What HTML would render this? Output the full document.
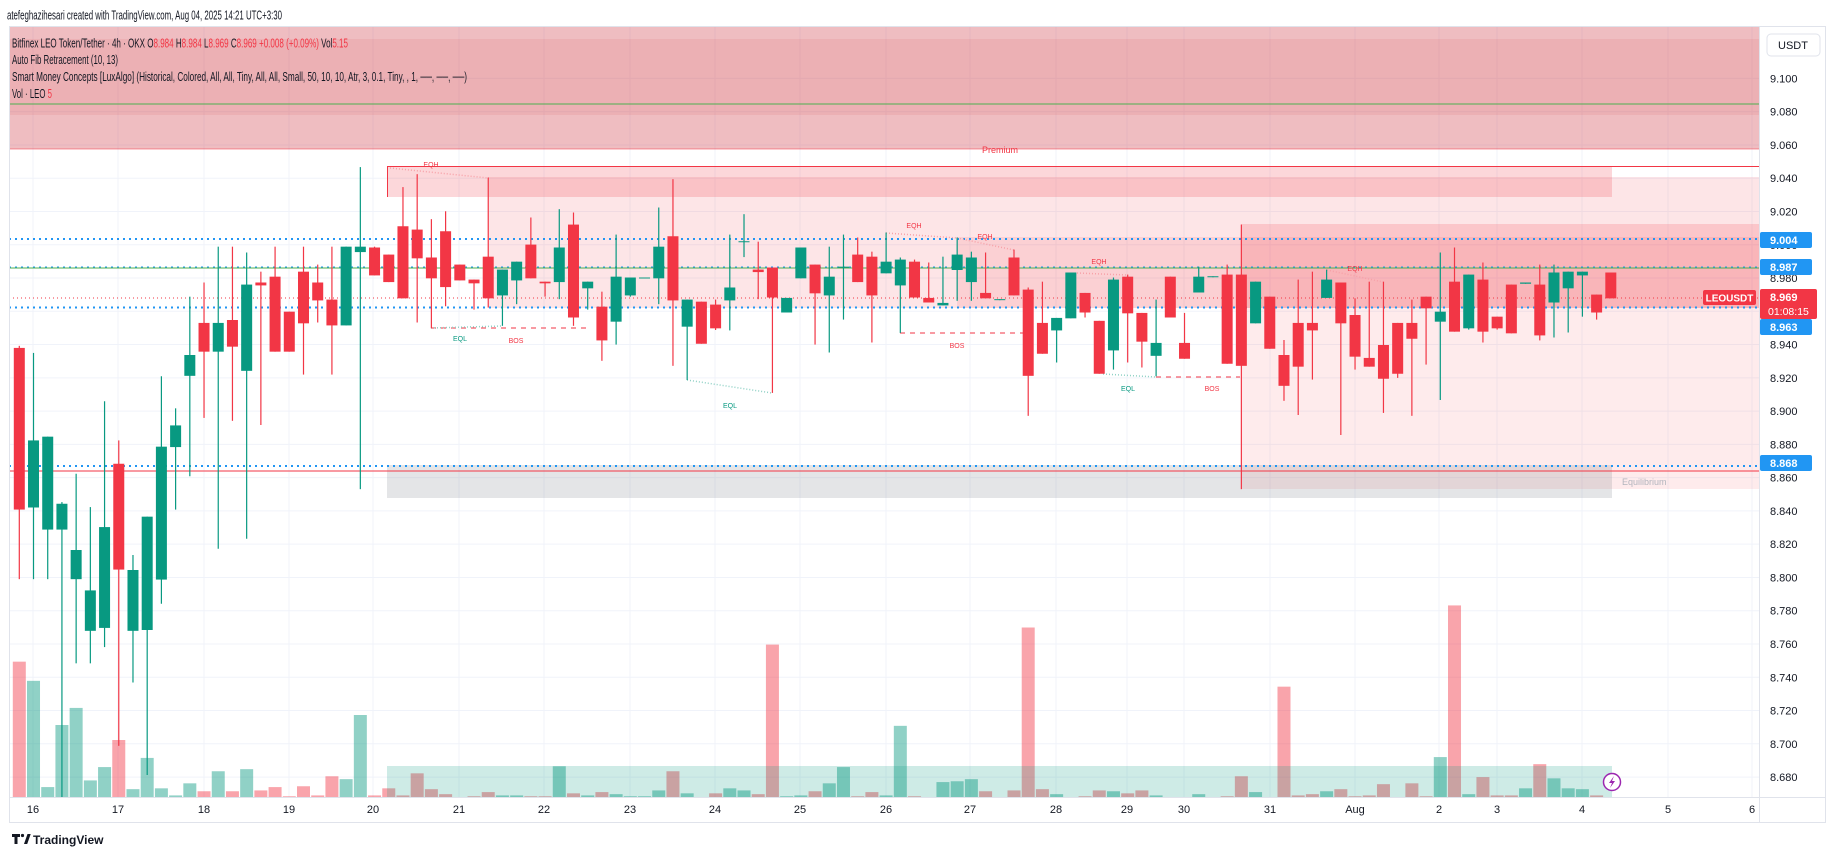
<!DOCTYPE html>
<html><head><meta charset="utf-8"><style>
html,body{margin:0;padding:0;background:#fff;width:1835px;height:858px;overflow:hidden}
svg{display:block;font-family:"Liberation Sans",sans-serif}
</style></head><body>
<svg id="s" width="1835" height="858" viewBox="0 0 1835 858" xmlns="http://www.w3.org/2000/svg">
<rect x="0" y="0" width="1835" height="858" fill="#fff"/>
<g id="grid"></g>
<rect x="9" y="26" width="1750" height="123" fill="rgba(214,82,92,0.38)"/>
<rect x="9" y="39" width="1750" height="76" fill="rgba(214,82,92,0.12)"/>
<line x1="9" y1="104" x2="1759" y2="104" stroke="#4caf50" stroke-width="1"/>
<line x1="9" y1="149" x2="1759" y2="149" stroke="rgba(242,54,69,0.5)" stroke-width="1"/>
<text x="1000" y="153" font-size="9" fill="#f23645" text-anchor="middle">Premium</text>
<rect x="488" y="177" width="1271" height="131" fill="rgba(242,54,69,0.13)"/>
<rect x="957" y="237" width="802" height="71" fill="rgba(242,54,69,0.12)"/>
<rect x="1241" y="224" width="518" height="265" fill="rgba(242,54,69,0.1)"/>
<rect x="1241" y="224" width="518" height="84" fill="rgba(242,54,69,0.08)"/>
<rect x="387" y="166" width="1225" height="31" fill="rgba(242,54,69,0.2)"/>
<line x1="387" y1="166.5" x2="1759" y2="166.5" stroke="#f23645" stroke-width="1"/>
<line x1="387.5" y1="166" x2="387.5" y2="197" stroke="#f23645" stroke-width="1"/>
<rect x="387" y="465" width="1225" height="33" fill="rgba(120,123,134,0.2)"/>
<text x="1622" y="485" font-size="9" fill="#b2b5be">Equilibrium</text>
<line x1="9" y1="268" x2="1759" y2="268" stroke="#4caf50" stroke-width="1"/>
<line x1="9" y1="239" x2="1759" y2="239" stroke="#2196f3" stroke-width="2" stroke-dasharray="2,4"/>
<line x1="9" y1="267" x2="1759" y2="267" stroke="#2196f3" stroke-width="1" stroke-dasharray="2,4"/>
<line x1="9" y1="307.5" x2="1759" y2="307.5" stroke="#2196f3" stroke-width="2" stroke-dasharray="2,4"/>
<line x1="9" y1="466" x2="1759" y2="466" stroke="#2196f3" stroke-width="2" stroke-dasharray="2,4"/>
<line x1="9" y1="471" x2="1759" y2="471" stroke="#f23645" stroke-width="1"/>
<line x1="9" y1="298" x2="1759" y2="298" stroke="#f23645" stroke-width="1" stroke-dasharray="1,3"/>
<g font-size="7" text-anchor="middle">
<line x1="390" y1="168" x2="488" y2="178" stroke="#f7a1a8" stroke-width="1.5" stroke-dasharray="1,2"/>
<text x="431" y="167" fill="#f23645">EQH</text>
<line x1="431" y1="328" x2="590" y2="328" stroke="#f23645" stroke-width="1" stroke-dasharray="5,5"/>
<line x1="431" y1="328" x2="502" y2="326" stroke="#8fd1c5" stroke-width="1.5" stroke-dasharray="1,2"/>
<text x="460" y="341" fill="#089981">EQL</text>
<text x="516" y="343" fill="#f23645">BOS</text>
<line x1="687" y1="380" x2="772" y2="393" stroke="#8fd1c5" stroke-width="1.5" stroke-dasharray="1,2"/>
<text x="730" y="408" fill="#089981">EQL</text>
<line x1="886" y1="233" x2="957" y2="238" stroke="#f7a1a8" stroke-width="1.5" stroke-dasharray="1,2"/>
<text x="914" y="228" fill="#f23645">EQH</text>
<line x1="957" y1="238" x2="1014" y2="250" stroke="#f7a1a8" stroke-width="1.5" stroke-dasharray="1,2"/>
<text x="985" y="239" fill="#f23645">EQH</text>
<line x1="900" y1="333" x2="1023" y2="333" stroke="#f23645" stroke-width="1" stroke-dasharray="5,5"/>
<text x="957" y="348" fill="#f23645">BOS</text>
<line x1="1077" y1="273" x2="1127" y2="275" stroke="#f7a1a8" stroke-width="1.5" stroke-dasharray="1,2"/>
<text x="1099" y="264" fill="#f23645">EQH</text>
<line x1="1103" y1="374" x2="1156" y2="377" stroke="#8fd1c5" stroke-width="1.5" stroke-dasharray="1,2"/>
<text x="1128" y="391" fill="#089981">EQL</text>
<line x1="1156" y1="377" x2="1240" y2="377" stroke="#f23645" stroke-width="1" stroke-dasharray="5,5"/>
<text x="1212" y="391" fill="#f23645">BOS</text>
<line x1="1327" y1="270" x2="1383" y2="282" stroke="#f7a1a8" stroke-width="1.5" stroke-dasharray="1,2"/>
<text x="1355" y="271" fill="#f23645">EQH</text>
</g>
<g id="vol"></g>
<rect x="387" y="766" width="1225" height="31" fill="rgba(8,153,129,0.2)"/>
<g id="cand"></g>
<circle cx="1612" cy="782" r="8.5" fill="#fff" stroke="#9c27b0" stroke-width="1.5"/>
<path d="M1614,776 L1609,783 L1612,783 L1610,788 L1615,781 L1612,781 Z" fill="#9c27b0"/>
<rect x="9.5" y="26.5" width="1816" height="796" fill="none" stroke="#e0e3eb"/>
<line x1="1759.5" y1="26" x2="1759.5" y2="823" stroke="#e0e3eb"/>
<line x1="9" y1="797.5" x2="1826" y2="797.5" stroke="#e0e3eb"/>
<g id="axis" font-size="11" fill="#131722"></g>
<rect x="1767" y="34" width="53" height="22" rx="4" fill="#fff" stroke="#e0e3eb"/>
<text x="1793" y="49" font-size="11" fill="#131722" text-anchor="middle">USDT</text>
<g font-size="11" font-weight="bold" fill="#fff">
<rect x="1760" y="232" width="52" height="16" rx="2" fill="#2196f3"/><text x="1770" y="244">9.004</text>
<rect x="1760" y="259" width="52" height="16" rx="2" fill="#2196f3"/><text x="1770" y="271">8.987</text>
<rect x="1760" y="319" width="52" height="16" rx="2" fill="#2196f3"/><text x="1770" y="331">8.963</text>
<rect x="1760" y="455" width="52" height="16" rx="2" fill="#2196f3"/><text x="1770" y="467">8.868</text>
<rect x="1760" y="289" width="57" height="30" rx="2" fill="#f23645"/><text x="1770" y="301">8.969</text>
<text x="1768" y="315" font-weight="normal" font-size="10.5">01:08:15</text>
<rect x="1703" y="290" width="53" height="15" rx="2" fill="#f23645"/><text x="1729.5" y="301.5" text-anchor="middle" font-size="10">LEOUSDT</text>
</g>
<text x="7" y="19.5" font-size="12.5" fill="#131722" textLength="275" lengthAdjust="spacingAndGlyphs">atefeghazihesari created with TradingView.com, Aug 04, 2025 14:21 UTC+3:30</text>
<g font-size="12.5" fill="#131722">
<text x="12" y="47.5" textLength="336" lengthAdjust="spacingAndGlyphs">Bitfinex LEO Token/Tether · 4h · OKX  O<tspan fill="#f23645">8.984</tspan>  H<tspan fill="#f23645">8.984</tspan>  L<tspan fill="#f23645">8.969</tspan>  C<tspan fill="#f23645">8.969</tspan>  <tspan fill="#f23645">+0.008 (+0.09%)</tspan>  Vol<tspan fill="#f23645">5.15</tspan></text>
<text x="12" y="64" textLength="106" lengthAdjust="spacingAndGlyphs">Auto Fib Retracement (10, 13)</text>
<text x="12" y="81" textLength="455" lengthAdjust="spacingAndGlyphs">Smart Money Concepts [LuxAlgo] (Historical, Colored, All, All, Tiny, All, All, Small, 50, 10, 10, Atr, 3, 0.1, Tiny, , 1, ──, ──, ──)</text>
<text x="12" y="98" textLength="40" lengthAdjust="spacingAndGlyphs">Vol · LEO  <tspan fill="#f23645">5</tspan></text>
</g>
<g>
<path d="M12,834 h8 v3 h-2.5 v7 h-3 v-7 h-2.5z" fill="#131722"/>
<circle cx="22.5" cy="835.5" r="1.6" fill="#131722"/>
<path d="M24,844 l3.5,-10 h3.2 l-3.5,10z" fill="#131722"/>
<text x="33" y="844" font-size="12" font-weight="bold" fill="#131722">TradingView</text>
</g>
</svg>
<script>
var NS="http://www.w3.org/2000/svg";
function el(p,t,a){var e=document.createElementNS(NS,t);for(var k in a)e.setAttribute(k,a[k]);p.appendChild(e);return e;}
var grid=document.getElementById('grid'),axis=document.getElementById('axis');
for(var i=0;i<=21;i++){var p=9.1-i*0.02;var y=78.4+(9.1-p)*1663.5;
 el(grid,'line',{x1:9,y1:y,x2:1759,y2:y,stroke:'#f0f3fa','stroke-width':1});
 var t=el(axis,'text',{x:1770,y:y+4});t.textContent=p.toFixed(3);}
var dates=[["16",33],["17",118],["18",204],["19",289],["20",373],["21",459],["22",544],["23",630],["24",715],["25",800],["26",886],["27",970],["28",1056],["29",1127],["30",1184],["31",1270],["Aug",1355],["2",1439],["3",1497],["4",1582],["5",1668],["6",1752]];
dates.forEach(function(d){el(grid,'line',{x1:d[1],y1:26,x2:d[1],y2:797,stroke:'#f0f3fa','stroke-width':1});
 var t=el(axis,'text',{x:d[1],y:813,'text-anchor':'middle'});t.textContent=d[0];});
var C="r 475 863 470 1030|g 697 858 487 1030|g 688 911 688 1030|g 849 911 845 1556|g 960 1030 777 1232|g 1057 1154 857 1232|g 905 1147 603 1193|r 753 1007 697 1430|g 1008 1154 972 1278|g 880 1152 880 1500|g 712 1031 543 1089|g 661 713 620 863|g 492 542 352 783|r 415 484 318 643|g 415 484 232 957|r 408 472 232 650|g 323 530 246 933|r 318 325 292 660|r 304 484 232 484|r 388 484 388 484|r 292 416 232 539|r 318 361 275 414|r 359 421 232 539|g 232 421 232 421|g 232 245 41 814|r 234 301 232 301|r 251 317 251 317|r 183 356 89 356|r 191 260 58 414|r 258 308 166 428|r 195 329 147 375|r 275 313 275 313|r 311 320 311 383|r 256 356 66 378|g 287 349 287 422|g 268 313 268 370|r 227 308 162 308|r 316 320 316 352|g 234 317 142 358|r 179 402 150 422|g 316 332 316 383|r 376 457 340 506|g 304 412 203 467|g 306 349 306 352|g 306 308 306 308|g 232 308 138 370|r 207 361 70 518|g 359 424 359 552|r 364 465 364 465|r 371 428 359 432|g 330 361 203 433|g 219 221 154 257|r 287 293 220 358|r 282 354 282 583|g 355 390 355 390|g 234 308 234 308|r 275 344 275 467|g 304 349 232 486|g 280 282 203 407|r 251 317 210 317|r 256 349 244 462|g 268 296 198 296|g 263 325 258 439|r 268 354 263 354|r 355 366 270 366|g 367 373 256 373|g 251 288 210 362|g 258 317 244 362|r 343 356 246 356|g 358 360 358 360|r 258 349 239 349|r 335 542 330 638|r 415 489 316 489|g 403 433 403 510|g 294 404 294 404|r 343 390 343 402|r 410 537 410 537|g 311 481 306 527|r 304 392 299 510|r 391 460 391 522|g 463 494 359 543|r 304 402 304 402|r 463 501 391 501|g 304 342 280 342|g 303 305 303 305|r 299 513 275 513|r 299 518 179 814|g 316 416 316 416|r 352 477 352 477|r 492 566 456 602|r 415 520 311 636|r 415 433 292 551|g 311 355 287 355|r 318 416 318 684|r 396 496 356 527|r 499 520 316 520|r 468 549 316 631|r 415 537 415 547|r 415 453 359 638|r 352 380 352 515|g 388 412 246 600|r 316 436 234 436|g 299 428 299 431|r 311 436 270 462|r 400 428 400 431|r 323 440 323 440|g 318 321 318 321|r 323 445 275 457|g 294 366 275 450|g 292 332 292 438|g 292 301 292 400|r 347 390 347 407|r 294 356 294 356".split("|");
var V=[1228,1274,1529,1380,1339,1513,1481,1416,1534,1459,1532,1549,1520,1539,1491,1539,1486,1537,1529,1551,1527,1549,1503,1510,1356,1549,1532,1549,1496,1534,1546,1554,1551,1541,1549,1549,1551,1551,1479,1544,1549,1541,1546,1551,1551,1537,1491,1544,1554,1544,1532,1537,1546,1187,1551,1549,1539,1520,1481,1551,1541,1549,1382,1551,1554,1517,1515,1510,1539,1554,1537,1146,1534,1546,1554,1551,1537,1539,1544,1537,1549,1554,1554,1546,1554,1551,1503,1541,1554,1288,1549,1546,1539,1534,1551,1549,1522,1554,1520,1551,1457,1093,1546,1505,1549,1549,1532,1474,1508,1532,1534,1549,1554];
var vg=document.getElementById('vol'),cg=document.getElementById('cand');
function Y(p){return 150+p/2.4;}
C.forEach(function(s,i){var a=s.split(" ");var cx=19.3+i*14.21;var col=a[0]=="g"?"#089981":"#f23645";
 var bt=Y(+a[1]),bb=Y(+a[2]),wt=Y(+a[3]),wb=Math.min(Y(+a[4]),797);
 var vt=Y(V[i]);
 el(vg,'rect',{x:cx-6.5,y:vt,width:13,height:797-vt,fill:a[0]=="g"?"rgba(8,153,129,0.45)":"rgba(242,54,69,0.45)"});
 el(cg,'rect',{x:cx-0.6,y:wt,width:1.2,height:Math.max(wb-wt,1),fill:col});
 el(cg,'rect',{x:cx-5.5,y:bt,width:11,height:Math.max(bb-bt,1),fill:col});
});
</script>
</body></html>
